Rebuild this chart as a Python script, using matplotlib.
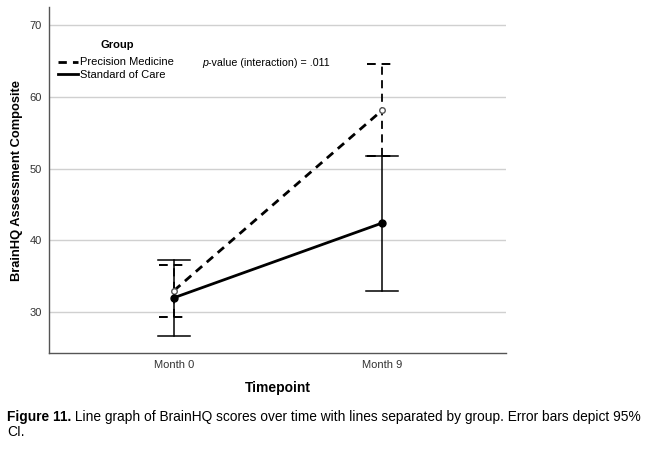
import numpy as np
import matplotlib.pyplot as plt

plt.rcParams['font.family'] = ['Liberation Sans', 'DejaVu Sans']

timepoints = ['Month 0', 'Month 9']
pm_mean = [33.0, 58.1]
pm_low = [29.3, 51.8]
pm_high = [36.6, 64.5]
soc_mean = [32.0, 42.4]
soc_low = [26.7, 33.0]
soc_high = [37.3, 51.8]

x = np.arange(len(timepoints))

fig = plt.figure(figsize=(6.5, 4.54), dpi=100)
ax = fig.add_axes([0.0754, 0.2225, 0.703, 0.762])

# vertical parts of the CI bars
for xi, lo, hi in zip(x, pm_low, pm_high):
    ax.plot([xi, xi], [lo, hi], color='black', lw=1.3, dashes=(4.5, 3), zorder=3)
for xi, lo, hi in zip(x, soc_low, soc_high):
    ax.plot([xi, xi], [lo, hi], color='black', lw=1.1, zorder=3)

# caps (dashed for precision medicine)
for xi, lo, hi in zip(x, pm_low, pm_high):
    for v in (lo, hi):
        ax.plot([xi - 0.072, xi + 0.06], [v, v], color='black', lw=1.4,
                dashes=(4.5, 3), zorder=3)
for xi, lo, hi in zip(x, soc_low, soc_high):
    for v in (lo, hi):
        ax.plot([xi - 0.075, xi + 0.075], [v, v], color='black', lw=1.1, zorder=3)

ax.plot(x, pm_mean, color='black', lw=2.0, ls=(0, (3, 2.2)), zorder=4,
        label='Precision Medicine')
ax.plot(x, soc_mean, color='black', lw=2.0, zorder=4, label='Standard of Care')
ax.plot(x, pm_mean, 'o', ms=4, mfc='white', mec='#555555', mew=1.0, zorder=5)
ax.plot(x, soc_mean, 'o', ms=5, color='black', zorder=5)

ax.set_xlim(-0.601, 1.596)
ax.set_ylim(24.3, 72.5)
ax.set_yticks([30, 40, 50, 60, 70])
ax.set_xticks(x)
ax.set_xticklabels(timepoints)
ax.tick_params(length=0, labelsize=8, colors='#333333', pad=5)
ax.yaxis.grid(True, color='#d0d0d0', lw=1.0)
ax.set_axisbelow(True)
for s in ('top', 'right'):
    ax.spines[s].set_visible(False)
for s in ('left', 'bottom'):
    ax.spines[s].set_color('#555555')
    ax.spines[s].set_linewidth(1.0)

ax.set_ylabel('BrainHQ Assessment Composite', fontsize=9.3, fontweight='bold', labelpad=5)
ax.set_xlabel('Timepoint', fontsize=10, fontweight='bold', labelpad=8)

leg = ax.legend(loc='upper left', bbox_to_anchor=(0.0, 0.88), frameon=False,
                fontsize=8, handlelength=1.8, handletextpad=0.2, labelspacing=0.22,
                borderpad=0.3)
ax.text(0.149, 0.89, 'Group', transform=ax.transAxes, fontsize=8, fontweight='bold',
        va='center', ha='center')
ax.text(0.335, 0.838, 'p', transform=ax.transAxes, fontsize=7.7, va='center',
        style='italic')
ax.text(0.348, 0.838, '-value (interaction) = .011', transform=ax.transAxes,
        fontsize=7.7, va='center')

t1 = fig.text(0.011, 0.0727, 'Figure 11.', fontsize=9.95, fontweight='bold', va='baseline')
fig.canvas.draw()
ax.annotate(' Line graph of BrainHQ scores over time with lines separated by group. '
            'Error bars depict 95%', xy=(1, 0), xycoords=t1, fontsize=9.95,
            va='bottom', ha='left', annotation_clip=False)
fig.text(0.011, 0.0396, 'CI.', fontsize=9.95, va='baseline')

fig.savefig('out.png', dpi=100)
